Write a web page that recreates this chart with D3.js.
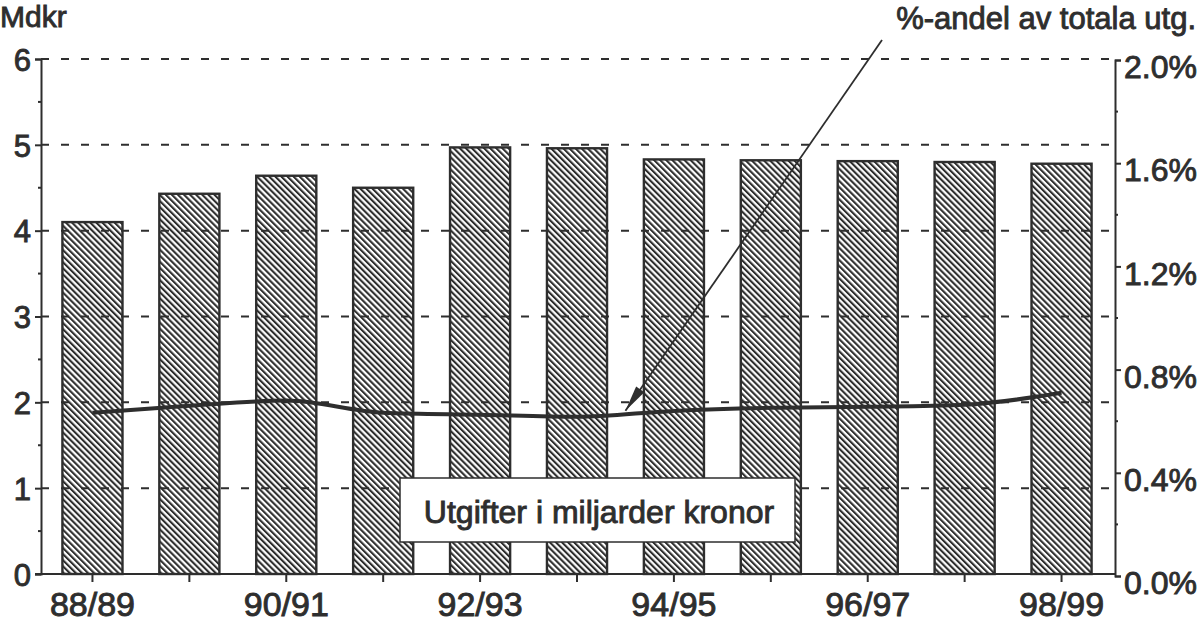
<!DOCTYPE html>
<html>
<head>
<meta charset="utf-8">
<script src="https://cdn.jsdelivr.net/npm/d3@7"></script>
<style>
  body { margin: 0; background: #fff; }
  svg text { font-family: "Liberation Sans", Arial, sans-serif; fill: #2e2e2e; }
</style>
</head>
<body>
<div id="chart"></div>
<script>
// budget years
var years = ["88/89", "89/90", "90/91", "91/92", "92/93", "93/94", "94/95", "95/96", "96/97", "97/98", "98/99"];
// expenses, billion kronor (left axis)
var mdkr = [4.1, 4.43, 4.64, 4.5, 4.97, 4.96, 4.83, 4.82, 4.81, 4.8, 4.78];
// share of total expenses, percent (right axis)
var andel = [0.633, 0.66, 0.68, 0.633, 0.625, 0.617, 0.64, 0.652, 0.656, 0.664, 0.71];
var leftTicks = [0, 1, 2, 3, 4, 5, 6];
var rightTicks = [0, 0.4, 0.8, 1.2, 1.6, 2.0];
var labelYears = ["88/89", "90/91", "92/93", "94/95", "96/97", "98/99"];

var ink = "#2e2e2e";
var width = 1199, height = 624;
var plotLeft = 41, plotRight = 1115, plotBottom = 574, plotTop = 59;

var svg = d3.select("#chart").append("svg")
    .attr("width", width)
    .attr("height", height);

var defs = svg.append("defs");
defs.append("pattern")
    .attr("id", "hatch")
    .attr("patternUnits", "userSpaceOnUse")
    .attr("width", 4.3)
    .attr("height", 10)
    .attr("patternTransform", "rotate(-45)")
  .append("rect")
    .attr("x", 0)
    .attr("y", 0)
    .attr("width", 2.1)
    .attr("height", 10)
    .style("fill", ink);

var x = d3.scaleBand()
    .domain(years)
    .range([44, 1110])
    .paddingInner(0.38)
    .paddingOuter(0.19);

var y = d3.scaleLinear()
    .domain([0, 6])
    .range([plotBottom, plotTop]);

var y2 = d3.scaleLinear()
    .domain([0, 2])
    .range([plotBottom + 2, plotTop + 1]);

// dashed grid lines
svg.append("g")
    .selectAll("line")
    .data(leftTicks.slice(1))
  .enter().append("line")
    .attr("x1", plotLeft)
    .attr("x2", plotRight)
    .attr("y1", function(d) { return y(d); })
    .attr("y2", function(d) { return y(d); })
    .style("stroke", ink)
    .style("stroke-width", 2)
    .style("stroke-dasharray", "8,12");

// bars
svg.append("g")
    .selectAll(".bar")
    .data(mdkr)
  .enter().append("rect")
    .attr("class", "bar")
    .attr("x", function(d, i) { return x(years[i]); })
    .attr("width", x.bandwidth())
    .attr("y", function(d) { return y(d); })
    .attr("height", function(d) { return y(0) - y(d); })
    .style("fill", "url(#hatch)")
    .style("stroke", ink)
    .style("stroke-width", 2.4);

// share line
var line = d3.line()
    .x(function(d, i) { return x(years[i]) + x.bandwidth() / 2; })
    .y(function(d) { return y2(d); })
    .curve(d3.curveMonotoneX);

svg.append("path")
    .datum(andel)
    .attr("d", line)
    .style("fill", "none")
    .style("stroke", ink)
    .style("stroke-width", 4);

// axes
var yAxis = d3.axisLeft(y)
    .tickValues(leftTicks)
    .tickSize(6)
    .tickPadding(4)
    .tickFormat(d3.format("d"));

var gy = svg.append("g")
    .attr("transform", "translate(" + plotLeft + ",0)")
    .call(yAxis);

var yAxis2 = d3.axisRight(y2)
    .tickValues(rightTicks)
    .tickSize(6)
    .tickPadding(3)
    .tickFormat(function(d) { return d3.format(".1f")(d) + "%"; });

var gy2 = svg.append("g")
    .attr("transform", "translate(" + plotRight + ",0)")
    .call(yAxis2);

var xAxis = d3.axisBottom(x)
    .tickSize(8)
    .tickPadding(10)
    .tickFormat(function(d) { return labelYears.indexOf(d) >= 0 ? d : ""; });

var gx = svg.append("g")
    .attr("transform", "translate(0," + plotBottom + ")")
    .call(xAxis);

gx.select(".domain").attr("d", "M" + (plotLeft - 6) + ",0H" + plotRight);

[gx, gy, gy2].forEach(function(g) {
  g.selectAll("path, line").style("stroke", ink).style("stroke-width", 2);
  g.selectAll("text")
      .style("fill", ink)
      .style("stroke", ink)
      .style("stroke-width", 0.9);
});
gy.selectAll("text").style("font-size", "31px").attr("dy", "0.36em");
gy2.selectAll("text").style("font-size", "32px").attr("dy", "0.55em");
gx.selectAll("text").style("font-size", "34px");

// minor ticks
svg.append("g")
    .selectAll("line")
    .data(d3.range(0.5, 6, 1))
  .enter().append("line")
    .attr("x1", plotLeft - 3)
    .attr("x2", plotLeft)
    .attr("y1", function(d) { return y(d); })
    .attr("y2", function(d) { return y(d); })
    .style("stroke", ink)
    .style("stroke-width", 2);

svg.append("g")
    .selectAll("line")
    .data(d3.range(0.2, 2, 0.4))
  .enter().append("line")
    .attr("x1", plotRight)
    .attr("x2", plotRight + 3)
    .attr("y1", function(d) { return y2(d); })
    .attr("y2", function(d) { return y2(d); })
    .style("stroke", ink)
    .style("stroke-width", 2);

// unit label
svg.append("text")
    .attr("x", 0)
    .attr("y", 27)
    .style("font-size", "30px")
    .style("stroke", ink)
    .style("stroke-width", 0.9)
    .text("Mdkr");

// annotation for the line
var tipX = (x(years[5]) + x(years[6]) + x.bandwidth()) / 2;
var tipY = (y2(andel[5]) + y2(andel[6])) / 2 - 3;
var startX = 882, startY = 40;
var ang = Math.atan2(tipY - startY, tipX - startX);

svg.append("line")
    .attr("x1", startX)
    .attr("y1", startY)
    .attr("x2", tipX)
    .attr("y2", tipY)
    .style("stroke", ink)
    .style("stroke-width", 1.8);

var headLen = 26, headW = 5;
var bx = tipX - headLen * Math.cos(ang), by = tipY - headLen * Math.sin(ang);
svg.append("path")
    .attr("d", "M" + tipX + "," + tipY +
      "L" + (bx - headW * Math.sin(ang)) + "," + (by + headW * Math.cos(ang)) +
      "L" + (bx + headW * Math.sin(ang)) + "," + (by - headW * Math.cos(ang)) + "Z")
    .style("fill", ink);

svg.append("text")
    .attr("x", 1196)
    .attr("y", 29)
    .style("text-anchor", "end")
    .style("font-size", "31px")
    .style("stroke", ink)
    .style("stroke-width", 0.9)
    .text("%-andel av totala utg.");

// label box for the bars
svg.append("rect")
    .attr("x", 400)
    .attr("y", 478)
    .attr("width", 395)
    .attr("height", 64)
    .style("fill", "#fff")
    .style("stroke", ink)
    .style("stroke-width", 1.5);

svg.append("text")
    .attr("x", 599)
    .attr("y", 523)
    .style("text-anchor", "middle")
    .style("font-size", "32px")
    .style("stroke", ink)
    .style("stroke-width", 0.9)
    .text("Utgifter i miljarder kronor");
</script>
</body>
</html>
